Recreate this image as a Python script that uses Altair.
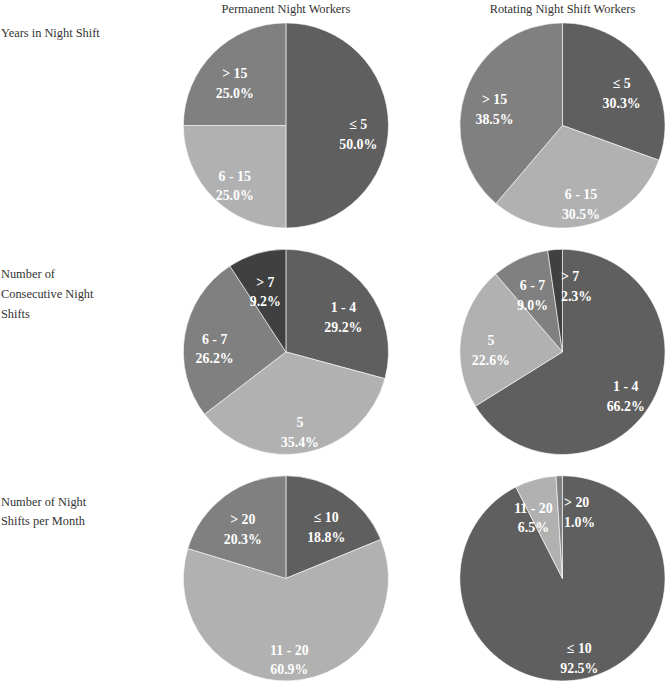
import altair as alt
import pandas as pd

SERIF = "'Liberation Serif', 'Times New Roman', 'DejaVu Serif', serif"

# Column groups and row topics
groups = ["Permanent Night Workers", "Rotating Night Shift Workers"]
row_titles = [
    "Years in Night Shift",
    "Number of\nConsecutive Night\nShifts",
    "Number of Night\nShifts per Month",
]

# Years in night shift (%)
years_cats = ["≤ 5", "6 - 15", "> 15"]
years_perm = [50.0, 25.0, 25.0]
years_rot = [30.3, 30.5, 38.5]

# Number of consecutive night shifts (%)
consec_cats = ["1 - 4", "5", "6 - 7", "> 7"]
consec_perm = [29.2, 35.4, 26.2, 9.2]
consec_rot = [66.2, 22.6, 9.0, 2.3]

# Number of night shifts per month (%)
month_cats = ["≤ 10", "11 - 20", "> 20"]
month_perm = [18.8, 60.9, 20.3]
month_rot = [92.5, 6.5, 1.0]

slice_colors = ["#5f5f5f", "#b1b1b1", "#808080", "#404040"]

PIE = 207
TINY = 5   # labels of slices below this share start right of the anchor
NARROW = 7  # labels of slices below this share are nudged away from the top

LABEL = "[datum.cat, format(datum.pct, '.1f') + '%']"


def pie(cats, values, title=None):
    df = pd.DataFrame({"cat": cats, "pct": values, "rank": list(range(len(cats)))})
    base = alt.Chart(df).encode(
        theta=alt.Theta("pct:Q", stack=True),
        order=alt.Order("rank:Q"),
    )
    arcs = base.mark_arc(stroke="white", strokeWidth=0.6).encode(
        color=alt.Color(
            "rank:O",
            scale=alt.Scale(domain=[0, 1, 2, 3], range=slice_colors),
            legend=None,
        )
    )
    text_style = dict(font=SERIF, fontSize=14, fontWeight="bold", fill="white",
                      lineHeight=20, baseline="middle")

    def label_layer(cond, **mark_kw):
        return base.transform_calculate(
            lines=f"({cond}) ? {LABEL} : ''"
        ).mark_text(**text_style, **mark_kw).encode(text="lines:N", detail="rank:O")

    wide = label_layer(f"datum.pct >= {NARROW}", radius=73, align="center")
    narrow = label_layer(f"datum.pct >= {TINY} && datum.pct < {NARROW}",
                         radius=73, align="center", dx=-10)
    tiny = label_layer(f"datum.pct < {TINY}", radius=76, align="left", dx=4)

    ch = alt.layer(arcs, wide, narrow, tiny).properties(width=PIE, height=PIE)
    if title:
        ch = ch.properties(
            title=alt.Title(title, font=SERIF, fontSize=12.5, fontWeight="normal",
                            color="#333333", offset=6, anchor="middle")
        )
    return ch


def row_label(text, top):
    df = pd.DataFrame({"label": [text]})
    return (
        alt.Chart(df)
        .transform_calculate(lines="split(datum.label, '\\n')")
        .mark_text(align="left", baseline="top", font=SERIF, fontSize=12.5,
                   lineHeight=20, color="#333333")
        .encode(text="lines:N", x=alt.value(1), y=alt.value(top))
        .properties(width=115, height=PIE)
    )


label_tops = [4, 19, 20]
pie_data = [
    (years_cats, years_perm, years_rot),
    (consec_cats, consec_perm, consec_rot),
    (month_cats, month_perm, month_rot),
]

rows = []
for i, (cats, perm, rot) in enumerate(pie_data):
    rows.append(
        alt.hconcat(
            row_label(row_titles[i], label_tops[i]),
            pie(cats, perm, groups[0] if i == 0 else None),
            pie(cats, rot, groups[1] if i == 0 else None),
            spacing=68,
        )
    )

chart = (
    alt.vconcat(*rows, spacing=17.5)
    .properties(padding={"top": 0, "left": 0, "right": 0, "bottom": 0},
                background="white")
    .configure_view(stroke=None)
)

chart.save("out.html", embed_options={"renderer": "svg", "actions": False})
